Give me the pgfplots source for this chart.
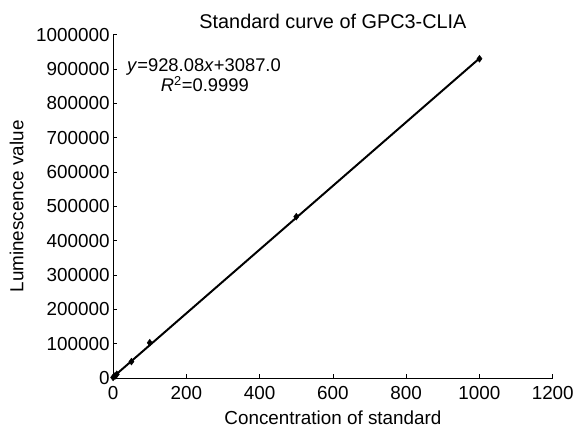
\documentclass[border=0pt]{standalone}
\usepackage{fontspec}
\setmainfont{Liberation Sans}
\usepackage{pgfplots}
\pgfplotsset{compat=1.18}

\begin{document}
\begin{tikzpicture}[font=\fontsize{19bp}{23bp}\selectfont]
\begin{axis}[name=ax,scale only axis,width=443bp,height=346bp,
  axis x line*=bottom,axis y line*=left,
  xmin=0,xmax=1200,ymin=0,ymax=1000000,
  xtick={0,200,...,1200},ytick={0,100000,...,1000000},
  scaled ticks=false,tick style={black,line width=0.6pt},
  tick align=inside,major tick length=4bp,
  /pgf/number format/assume math mode=true,
  xticklabel={\pgfmathprintnumber[fixed,1000 sep={}]{\tick}},
  yticklabel={\pgfmathprintnumber[fixed,1000 sep={}]{\tick}},
  xticklabel style={yshift=-5bp},yticklabel style={xshift=0bp},
  axis line style={black,line width=0.8pt},
  title={Standard curve of GPC3-CLIA},
  title style={yshift=-3bp,font=\fontsize{20bp}{24bp}\selectfont},
  xlabel={Concentration of standard},ylabel={Luminescence value},
  xlabel style={yshift=-4bp},ylabel style={yshift=6bp},
  clip=false]
\addplot[black,line width=2pt] coordinates {(0,3087) (1000,931167)};
\addplot[only marks,mark=diamond*,mark size=3.5bp,black] coordinates {
(0,2000) (5,6000) (10,11000) (50,48000) (100,103000) (500,470000) (1000,930000)};
\node[anchor=west,inner sep=0pt,font=\fontsize{18.5bp}{22bp}\selectfont] at (axis cs:38,907000) {\textit{y}=928.08\textit{x}+3087.0};
\node[anchor=west,inner sep=0pt,font=\fontsize{18.5bp}{22bp}\selectfont] at (axis cs:130,857000) {\textit{R}\textsuperscript{2}=0.9999};
\end{axis}
\path[use as bounding box] ([shift={(-114bp,-46bp)}]ax.south west) rectangle ([shift={(20bp,35bp)}]ax.north east);
\end{tikzpicture}
\end{document}
